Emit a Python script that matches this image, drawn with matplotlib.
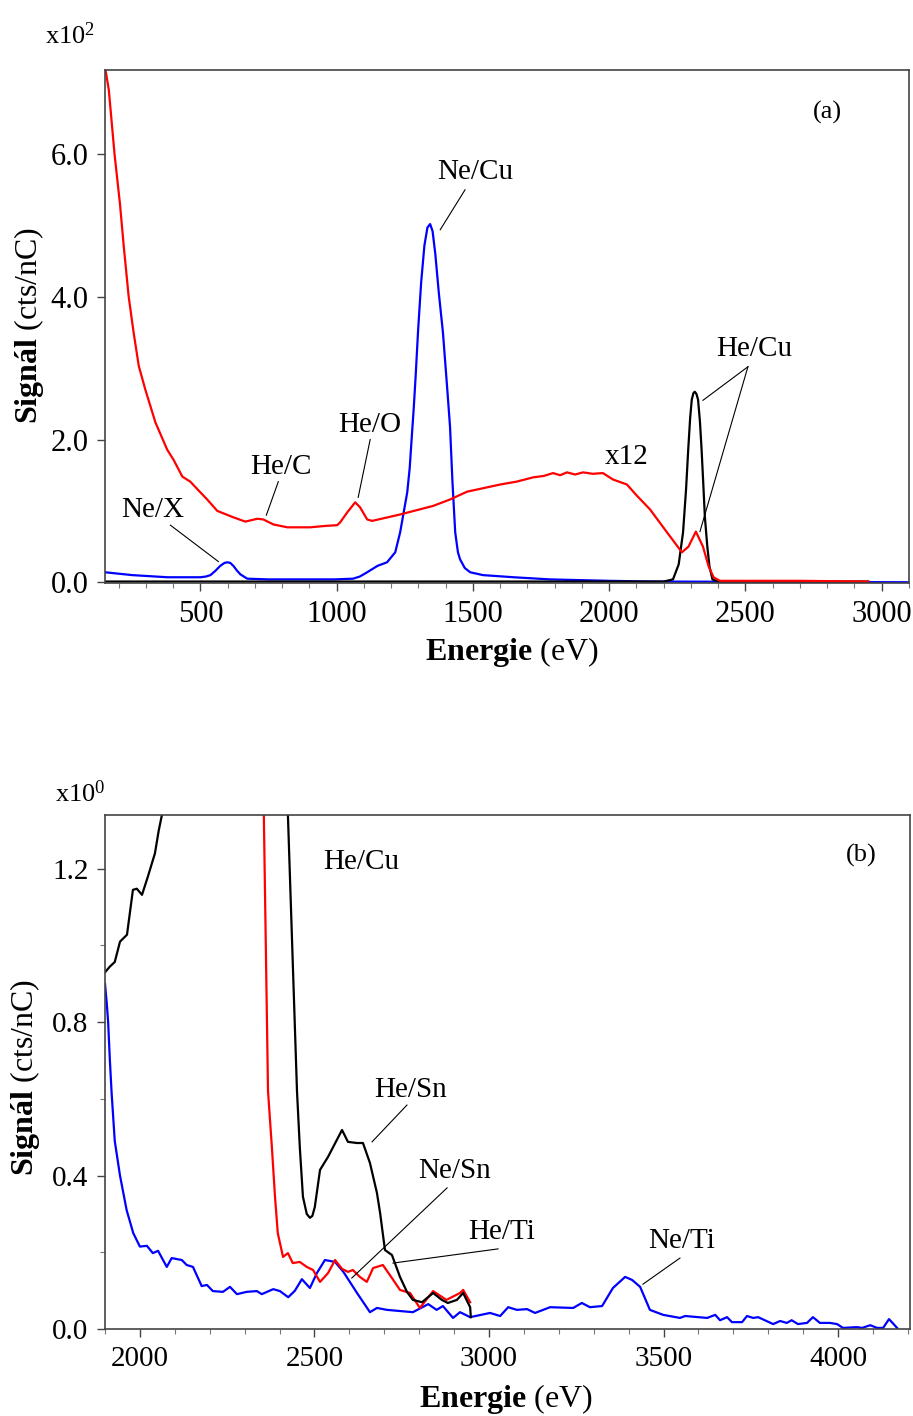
import matplotlib
matplotlib.use("Agg")
import matplotlib.pyplot as plt
from matplotlib.ticker import MultipleLocator, NullLocator

plt.rcParams['font.family'] = ['Liberation Serif', 'DejaVu Serif']
plt.rcParams['mathtext.fontset'] = 'custom'
plt.rcParams['mathtext.rm'] = 'Liberation Serif'
plt.rcParams['mathtext.bf'] = 'Liberation Serif:bold'
plt.rcParams['mathtext.it'] = 'Liberation Serif:italic'

# ---- panel (a) data, signal in units of 1e2 cts/nC ----
red_a_E = [152, 164, 185, 205, 219, 237, 255, 274, 298, 335, 378, 401, 434, 463, 495, 525, 562,
           621, 665, 709, 731, 768, 819, 903, 960, 1002, 1013, 1039, 1068, 1086, 1112, 1130,
           1233, 1354, 1416, 1479, 1540, 1600, 1660, 1721, 1760, 1794, 1820, 1845, 1875, 1904,
           1940, 1977, 2014, 2065, 2100, 2150, 2212, 2267, 2291, 2318, 2344, 2365, 2383, 2406,
           2500, 2700, 2950]
red_a_y = [7.18, 6.9, 6.0, 5.3, 4.7, 4.0, 3.5, 3.03, 2.70, 2.24, 1.86, 1.72, 1.48, 1.41, 1.28,
           1.16, 1.00, 0.91, 0.85, 0.89, 0.88, 0.81, 0.77, 0.77, 0.79, 0.80, 0.84, 0.98, 1.12,
           1.05, 0.88, 0.86, 0.95, 1.07, 1.16, 1.27, 1.32, 1.37, 1.41, 1.47, 1.49, 1.53, 1.50,
           1.54, 1.51, 1.54, 1.52, 1.53, 1.44, 1.37, 1.22, 1.02, 0.70, 0.42, 0.50, 0.71, 0.50,
           0.22, 0.07, 0.02, 0.02, 0.02, 0.01]

black_a_E = [150, 1000, 2000, 2200, 2234, 2255, 2271, 2282, 2290, 2297, 2303, 2309, 2314, 2320,
             2326, 2333, 2339, 2345, 2351, 2360, 2368, 2379, 2400, 2950]
black_a_y = [0.01, 0.01, 0.01, 0.01, 0.04, 0.25, 0.70, 1.30, 1.86, 2.30, 2.56, 2.65, 2.67, 2.64,
             2.56, 2.25, 1.86, 1.40, 0.92, 0.50, 0.22, 0.04, 0.01, 0.01]

blue_a_E = [150, 250, 380, 500, 520, 537, 555, 573, 588, 599, 610, 621, 635, 647, 672, 750, 990,
            1060, 1085, 1112, 1150, 1185, 1215, 1233, 1259, 1268, 1275, 1283, 1290, 1299, 1310,
            1322, 1333, 1343, 1352, 1362, 1375, 1390, 1405, 1416, 1425, 1435, 1445, 1453, 1470,
            1490, 1537, 1650, 1783, 2000, 2150, 3100]
blue_a_y = [0.14, 0.10, 0.07, 0.07, 0.08, 0.10, 0.16, 0.23, 0.27, 0.28, 0.27, 0.23, 0.16, 0.11,
            0.05, 0.04, 0.04, 0.05, 0.08, 0.14, 0.23, 0.28, 0.42, 0.70, 1.26, 1.6, 2.0, 2.45, 2.9,
            3.54, 4.2, 4.72, 4.97, 5.02, 4.92, 4.6, 4.05, 3.5, 2.75, 2.18, 1.4, 0.70, 0.42, 0.32,
            0.20, 0.14, 0.10, 0.07, 0.04, 0.02, 0.01, 0.0]

# ---- panel (b) data, signal in cts/nC ----
blue_b_E = [1900, 1905, 1909, 1914, 1919, 1928, 1943, 1962, 1981, 2000, 2020, 2037, 2052, 2077,
            2091, 2120, 2134, 2152, 2177, 2192, 2209, 2238, 2258, 2278, 2306, 2335, 2349, 2382,
            2401, 2425, 2444, 2464, 2487, 2507, 2530, 2559, 2583, 2622, 2659, 2679, 2708, 2745,
            2782, 2826, 2850, 2868, 2897, 2917, 2946, 3003, 3032, 3055, 3080, 3109, 3132, 3175,
            3241, 3266, 3289, 3324, 3355, 3390, 3410, 3433, 3461, 3499, 3547, 3562, 3625, 3648,
            3662, 3682, 3696, 3725, 3739, 3757, 3771, 3814, 3834, 3853, 3867, 3885, 3911, 3928,
            3948, 3977, 3997, 4014, 4054, 4069, 4092, 4112, 4129, 4146, 4169]
blue_b_y = [0.90, 0.85, 0.80, 0.70, 0.615, 0.49, 0.40, 0.31, 0.25, 0.215, 0.217, 0.198, 0.204,
            0.162, 0.185, 0.180, 0.167, 0.162, 0.112, 0.115, 0.099, 0.097, 0.110, 0.091, 0.097,
            0.099, 0.091, 0.104, 0.099, 0.083, 0.100, 0.130, 0.107, 0.146, 0.180, 0.175, 0.149,
            0.094, 0.044, 0.055, 0.050, 0.047, 0.044, 0.065, 0.050, 0.060, 0.029, 0.044, 0.031,
            0.042, 0.034, 0.057, 0.050, 0.052, 0.042, 0.057, 0.055, 0.068, 0.057, 0.060, 0.107,
            0.136, 0.128, 0.110, 0.050, 0.037, 0.029, 0.034, 0.029, 0.037, 0.023, 0.031, 0.018,
            0.018, 0.034, 0.029, 0.031, 0.013, 0.021, 0.016, 0.023, 0.013, 0.016, 0.031, 0.016,
            0.016, 0.013, 0.003, 0.005, 0.003, 0.010, 0.003, 0.003, 0.026, 0.003]

red_b_E = [2330, 2355, 2367, 2378, 2387, 2395, 2410, 2424, 2438, 2458, 2478, 2496, 2516, 2539,
           2559, 2579, 2596, 2610, 2630, 2650, 2668, 2696, 2722, 2745, 2774, 2802, 2840, 2878,
           2917, 2926, 2946]
red_b_y = [2.5, 1.34, 0.62, 0.475, 0.345, 0.25, 0.188, 0.198, 0.172, 0.175, 0.162, 0.154, 0.123,
           0.146, 0.180, 0.157, 0.149, 0.154, 0.136, 0.123, 0.159, 0.167, 0.133, 0.102, 0.094,
           0.055, 0.099, 0.076, 0.094, 0.102, 0.070]

black_b_E = [1900, 1914, 1928, 1943, 1963, 1980, 1991, 2006, 2023, 2043, 2054, 2063, 2080, 2315,
             2410, 2424, 2450, 2458, 2467, 2478, 2487, 2494, 2501, 2516, 2539, 2579, 2596, 2622,
             2639, 2659, 2679, 2688, 2702, 2722, 2745, 2765, 2782, 2808, 2840, 2865, 2882, 2908,
             2926, 2946, 2948]
black_b_y = [0.93, 0.945, 0.957, 1.01, 1.028, 1.145, 1.148, 1.132, 1.18, 1.24, 1.30, 1.34, 1.6,
             267.0, 2.0, 1.34, 0.62, 0.475, 0.345, 0.30, 0.29, 0.295, 0.318, 0.415, 0.449,
             0.519, 0.488, 0.485, 0.485, 0.433, 0.355, 0.303, 0.206, 0.193, 0.136, 0.097, 0.076,
             0.070, 0.094, 0.076, 0.068, 0.076, 0.094, 0.057, 0.031]

RED = '#ff0000'
BLUE = '#0000ff'
LW = 1.6
TXT = 21

fig = plt.figure(figsize=(9.13, 14.16), dpi=100)
ax1 = fig.add_axes([0.115, 0.5883, 0.8806, 0.3623])
ax2 = fig.add_axes([0.115, 0.0614, 0.8817, 0.3630])

# panel (a)
ax1.plot(blue_a_E, blue_a_y, color=BLUE, lw=LW)
ax1.plot(black_a_E, black_a_y, color='black', lw=LW)
ax1.plot(red_a_E, red_a_y, color=RED, lw=LW)
ax1.set_xlim(150, 3100)
ax1.set_ylim(-0.01, 7.18)
ax1.xaxis.set_major_locator(MultipleLocator(500))
ax1.xaxis.set_minor_locator(MultipleLocator(100))
ax1.yaxis.set_major_locator(MultipleLocator(2.0))
ax1.yaxis.set_minor_locator(NullLocator())
ax1.yaxis.set_major_formatter(plt.FormatStrFormatter('%.1f'))


def leader(ax, x0, y0, x1, y1):
    ax.plot([x0, x1], [y0, y1], color='black', lw=0.8)


ax1.text(324, 1.01, 'Ne/X', fontsize=TXT, ha='center', va='center')
leader(ax1, 390, 0.80, 566, 0.29)
ax1.text(797, 1.62, 'He/C', fontsize=TXT, ha='center', va='center')
leader(ax1, 786, 1.41, 742, 0.94)
ax1.text(1123, 2.21, 'He/O', fontsize=TXT, ha='center', va='center')
leader(ax1, 1123, 2.0, 1079, 1.19)
ax1.text(1508, 5.75, 'Ne/Cu', fontsize=TXT, ha='center', va='center')
leader(ax1, 1471, 5.50, 1380, 4.94)
ax1.text(2065, 1.76, 'x12', fontsize=TXT, ha='center', va='center')
ax1.text(2531, 3.27, 'He/Cu', fontsize=TXT, ha='center', va='center')
leader(ax1, 2509, 3.02, 2344, 2.55)
leader(ax1, 2509, 3.02, 2333, 0.71)
ax1.text(2802, 6.58, '(a)', fontsize=19, ha='center', va='center')

# panel (b)
ax2.plot(blue_b_E, blue_b_y, color=BLUE, lw=LW)
ax2.plot(red_b_E, red_b_y, color=RED, lw=LW)
ax2.plot(black_b_E, black_b_y, color='black', lw=LW)
ax2.set_xlim(1900, 4206)
ax2.set_ylim(0, 1.34)
ax2.xaxis.set_major_locator(MultipleLocator(500))
ax2.xaxis.set_minor_locator(MultipleLocator(100))
ax2.yaxis.set_major_locator(MultipleLocator(0.4))
ax2.yaxis.set_minor_locator(MultipleLocator(0.2))
ax2.yaxis.set_major_formatter(plt.FormatStrFormatter('%.1f'))

ax2.text(2633, 1.218, 'He/Cu', fontsize=TXT, ha='center', va='center')
ax2.text(2774, 0.624, 'He/Sn', fontsize=TXT, ha='center', va='center')
leader(ax2, 2765, 0.584, 2665, 0.488)
ax2.text(2900, 0.412, 'Ne/Sn', fontsize=TXT, ha='center', va='center')
leader(ax2, 2880, 0.368, 2607, 0.133)
ax2.text(3037, 0.253, 'He/Ti', fontsize=TXT, ha='center', va='center')
leader(ax2, 3026, 0.209, 2725, 0.172)
ax2.text(3553, 0.230, 'Ne/Ti', fontsize=TXT, ha='center', va='center')
leader(ax2, 3547, 0.185, 3441, 0.117)
ax2.text(4066, 1.234, '(b)', fontsize=19, ha='center', va='center')

for ax in (ax1, ax2):
    for sp in ax.spines.values():
        sp.set_color('#444444')
        sp.set_linewidth(1.2)
    ax.tick_params(which='major', direction='out', length=6, width=1, labelsize=22, pad=6,
                   color='#444444')
    ax.tick_params(which='minor', direction='out', length=3.5, width=0.8, color='#777777')
ax2.tick_params(which='major', labelsize=21)

# axis labels and scale factors
fig.text(512 / 913, 1 - 652 / 1416, r'$\mathbf{Energie}$ (eV)', fontsize=23,
         ha='center', va='center')
fig.text(29 / 913, 1 - 325 / 1416, r'$\mathbf{Signál}$ (cts/nC)', fontsize=23,
         ha='center', va='center', rotation=90)
fig.text(506 / 913, 1 - 1399 / 1416, r'$\mathbf{Energie}$ (eV)', fontsize=23,
         ha='center', va='center')
fig.text(25 / 913, 1 - 1077 / 1416, r'$\mathbf{Signál}$ (cts/nC)', fontsize=23,
         ha='center', va='center', rotation=90)
fig.text(45 / 913, 1 - 44 / 1416, r'x10$^{2}$', fontsize=19, ha='left', va='baseline')
fig.text(55 / 913, 1 - 802 / 1416, r'x10$^{0}$', fontsize=19, ha='left', va='baseline')

fig.savefig('out.png', dpi=100, facecolor='white')
